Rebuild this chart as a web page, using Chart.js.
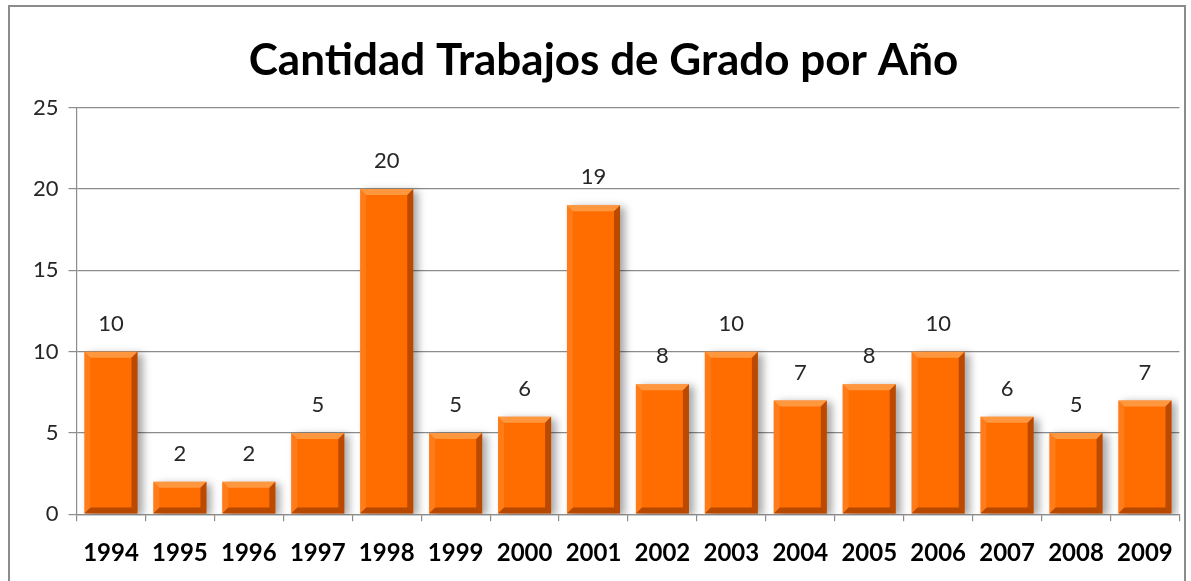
<!DOCTYPE html>
<html>
<head>
<meta charset="utf-8">
<script src="https://cdn.jsdelivr.net/npm/chart.js@4.4.0/dist/chart.umd.min.js"></script>
<style>
  html, body { margin: 0; padding: 0; background: #fff; overflow: hidden; }
  #frame { position: absolute; left: 8px; top: 5px; width: 1178px; height: 600px; border: 2px solid #8c8c8c; box-sizing: border-box; }
  #wrap { position: absolute; left: 0; top: 0; width: 1191px; height: 594px; }
</style>
</head>
<body>
<div id="frame"></div>
<div id="wrap"><canvas id="chart"></canvas></div>
<script>
const years = ['1994','1995','1996','1997','1998','1999','2000','2001','2002','2003','2004','2005','2006','2007','2008','2009'];
const trabajos = [10, 2, 2, 5, 20, 5, 6, 19, 8, 10, 7, 8, 10, 6, 5, 7];
const yTicks = [0, 5, 10, 15, 20, 25];

// value labels above each bar
const valueLabels = {
  id: 'valueLabels',
  afterDatasetsDraw(chart) {
    const ctx = chart.ctx;
    const meta = chart.getDatasetMeta(0);
    ctx.save();
    ctx.font = '22px Lato, sans-serif';
    ctx.fillStyle = '#262626';
    ctx.textAlign = 'center';
    ctx.textBaseline = 'middle';
    meta.data.forEach(function(bar, i) {
      ctx.fillText(trabajos[i], bar.x, bar.y - 28);
    });
    ctx.restore();
  }
};

// bevel look on the bars
const bevel = {
  id: 'bevel',
  afterDatasetsDraw(chart) {
    const ctx = chart.ctx;
    const meta = chart.getDatasetMeta(0);
    ctx.save();
    meta.data.forEach(function(bar) {
      const l = bar.x - bar.width / 2, r = bar.x + bar.width / 2;
      const t = bar.y, b = bar.base, d = 6;
      // top facet
      ctx.fillStyle = 'rgba(255,170,90,0.7)';
      ctx.beginPath();
      ctx.moveTo(l, t); ctx.lineTo(r, t); ctx.lineTo(r - d, t + d); ctx.lineTo(l + d, t + d); ctx.closePath(); ctx.fill();
      // left facet
      ctx.fillStyle = 'rgba(255,140,50,0.5)';
      ctx.beginPath();
      ctx.moveTo(l, t); ctx.lineTo(l + d, t + d); ctx.lineTo(l + d, b - d); ctx.lineTo(l, b); ctx.closePath(); ctx.fill();
      // right facet
      ctx.fillStyle = 'rgba(120,40,0,0.5)';
      ctx.beginPath();
      ctx.moveTo(r, t); ctx.lineTo(r, b); ctx.lineTo(r - d, b - d); ctx.lineTo(r - d, t + d); ctx.closePath(); ctx.fill();
      // bottom facet
      ctx.fillStyle = 'rgba(110,35,0,0.5)';
      ctx.beginPath();
      ctx.moveTo(l, b); ctx.lineTo(l + d, b - d); ctx.lineTo(r - d, b - d); ctx.lineTo(r, b); ctx.closePath(); ctx.fill();
    });
    ctx.restore();
  }
};

// soft shadow to the right of bars
const shadow = {
  id: 'shadow',
  beforeDatasetsDraw(chart) {
    const ctx = chart.ctx;
    ctx.save();
    ctx.shadowColor = 'rgba(0,0,0,0.35)';
    ctx.shadowBlur = 8;
    ctx.shadowOffsetX = 5;
    ctx.shadowOffsetY = 2;
  },
  afterDatasetsDraw(chart) {
    chart.ctx.restore();
  }
};

const ctx = document.getElementById('chart').getContext('2d');
const myChart = new Chart(ctx, {
  type: 'bar',
  data: {
    labels: years,
    datasets: [{
      label: 'Trabajos de Grado',
      data: trabajos,
      backgroundColor: '#ff6c00',
      borderWidth: 0,
      categoryPercentage: 0.77,
      barPercentage: 1.0
    }]
  },
  options: {
    responsive: true,
    maintainAspectRatio: false,
    animation: false,
    layout: { padding: { left: 23, right: 7, top: 14, bottom: 8 } },
    plugins: {
      legend: { display: false },
      tooltip: { enabled: false },
      title: {
        display: true,
        text: 'Cantidad Trabajos de Grado por Año',
        color: '#000',
        font: { family: 'Lato, sans-serif', size: 44, weight: 'bold' },
        padding: { top: 20, bottom: 21 }
      }
    },
    scales: {
      y: {
        min: 0,
        max: 25,
        afterBuildTicks(axis) { axis.ticks = yTicks.map(v => ({ value: v })); },
        ticks: { color: '#262626', font: { family: 'Lato, sans-serif', size: 22 }, padding: 10 },
        grid: { color: '#8c8c8c', lineWidth: 1.2, tickLength: 8 },
        border: { color: '#8c8c8c', width: 1.2 }
      },
      x: {
        offset: true,
        ticks: { color: '#000', font: { family: 'Lato, sans-serif', size: 24, weight: 'bold' }, padding: 18 },
        grid: { offset: true, drawOnChartArea: false, color: '#8c8c8c', tickLength: 7, lineWidth: 1.2 },
        border: { color: '#8c8c8c', width: 1.2 }
      }
    }
  },
  plugins: [shadow, bevel, valueLabels]
});
</script>
</body>
</html>
